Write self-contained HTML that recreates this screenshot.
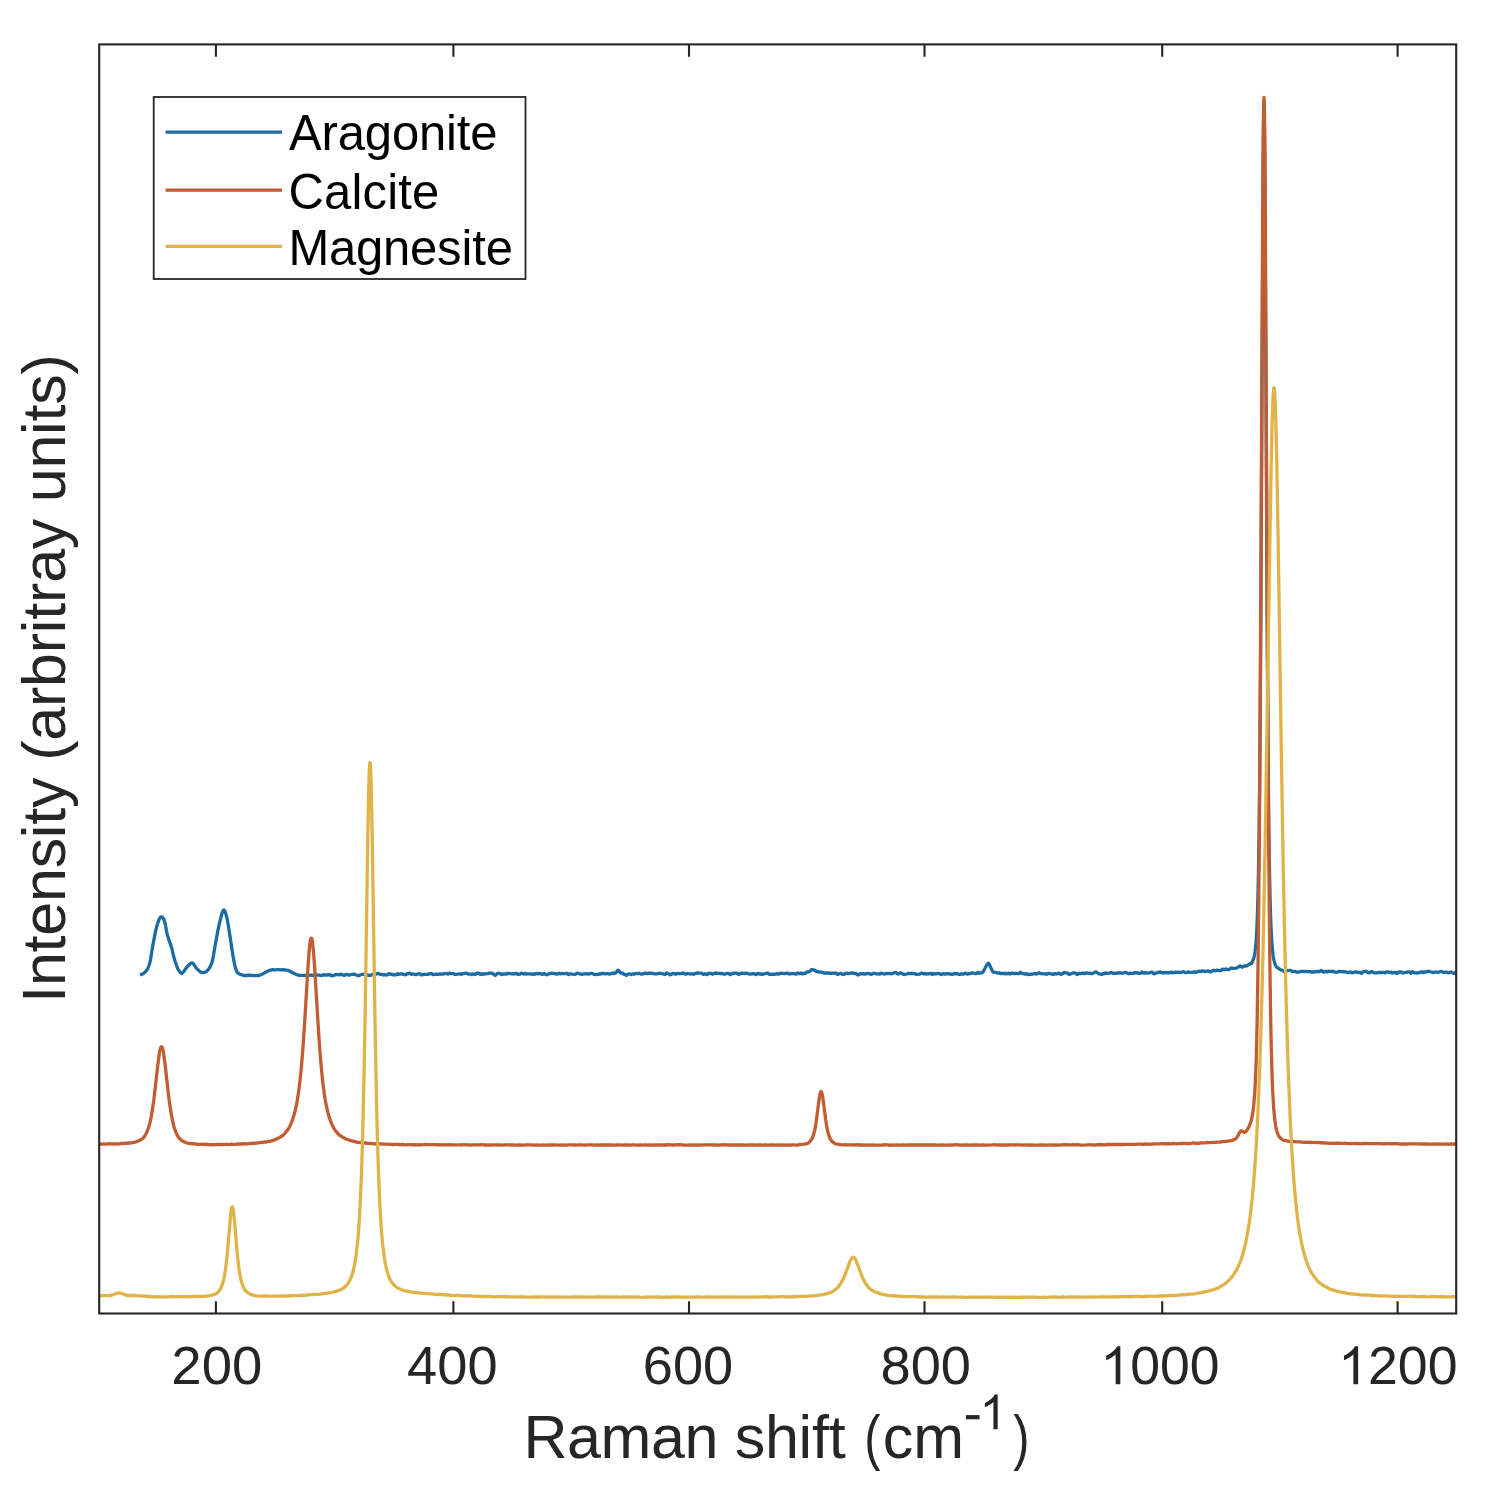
<!DOCTYPE html>
<html><head><meta charset="utf-8"><title>Raman spectra</title><style>
html,body{margin:0;padding:0;background:#fff;width:1497px;height:1497px;overflow:hidden}
svg{display:block;font-family:"Liberation Sans",sans-serif}
</style></head><body>
<svg width="1497" height="1497" viewBox="0 0 1497 1497">
<rect width="1497" height="1497" fill="#fff"/>
<defs><clipPath id="c"><rect x="99.2" y="44.4" width="1357.0" height="1269.1"/></clipPath></defs>
<g clip-path="url(#c)" fill="none" stroke-width="3.3" stroke-linejoin="round" stroke-linecap="butt">
<path d="M140.0,974.9 141.5,974.4 143.0,973.7 144.0,973.0 145.0,972.2 146.5,970.5 147.5,969.0 148.0,968.0 149.0,965.5 150.0,962.1 150.5,959.6 152.5,947.3 154.0,939.2 155.5,931.6 156.5,927.4 157.5,923.9 159.0,919.6 160.0,917.7 160.5,917.1 161.0,916.8 161.5,916.8 162.0,917.0 162.5,917.4 163.0,918.0 164.0,919.9 164.6,921.5 165.5,925.3 166.5,930.8 167.3,934.6 168.5,938.6 171.1,946.1 172.0,949.4 173.5,955.8 175.0,960.9 176.0,964.0 177.5,968.0 178.5,969.9 180.0,972.1 181.0,973.1 181.5,973.3 182.0,973.2 182.5,972.8 183.5,971.9 184.0,971.2 185.0,969.6 186.5,967.6 189.0,964.9 190.5,963.5 191.5,963.0 192.0,962.9 192.5,963.1 193.0,963.4 194.0,964.6 196.0,967.7 197.0,968.9 198.5,970.3 200.5,972.0 202.0,972.6 203.0,972.7 205.0,972.2 206.5,971.4 208.0,969.9 209.5,968.0 210.5,966.1 211.5,963.7 212.0,962.2 213.0,958.2 215.5,943.5 217.5,932.6 219.0,925.2 221.0,916.8 222.0,913.2 222.5,911.8 223.0,910.8 223.5,910.1 223.7,910.0 224.0,910.0 224.5,910.5 225.0,911.4 225.5,912.8 226.5,916.4 227.5,920.7 228.5,926.5 233.0,956.1 234.5,963.9 235.5,968.1 236.4,970.8 237.0,971.9 237.5,972.5 238.5,973.5 239.0,973.8 240.0,974.3 240.5,974.5 241.5,974.6 243.0,975.3 244.0,975.5 246.5,975.5 249.0,975.2 252.5,975.5 256.0,975.6 257.0,975.5 258.5,975.5 259.5,975.3 261.0,974.8 266.5,971.9 267.5,971.2 269.0,970.6 272.5,969.7 275.0,969.9 278.0,969.6 279.5,969.6 280.5,969.8 283.0,969.7 285.0,969.8 286.5,970.2 288.0,970.4 289.5,971.0 293.5,973.3 296.5,974.6 299.5,975.3 302.0,975.4 304.5,975.3 307.5,975.4 311.0,975.1 311.5,975.1 312.5,975.4 313.5,975.5 317.0,975.0 319.5,975.2 320.5,975.5 321.0,975.6 323.0,975.1 324.0,974.6 324.5,974.7 325.5,975.2 326.5,975.2 327.5,974.8 328.0,974.7 329.0,975.0 330.0,974.6 330.5,974.9 331.0,975.5 331.5,975.8 334.5,975.2 335.0,975.0 336.0,974.4 337.0,974.6 337.5,974.6 338.5,974.4 339.5,974.9 340.5,974.4 341.0,974.2 341.5,974.3 342.0,974.4 343.0,975.0 344.0,975.4 344.5,975.4 345.5,974.7 346.5,974.3 347.0,974.4 348.0,975.0 349.0,975.2 350.0,974.7 350.5,974.6 352.5,974.4 354.0,974.2 355.0,974.3 356.0,975.0 357.5,975.3 358.5,975.8 359.5,975.2 361.0,974.7 362.0,974.3 363.0,974.5 363.5,974.4 365.5,973.7 367.0,974.8 368.0,975.3 369.0,975.2 370.0,975.4 370.5,975.3 371.0,975.2 372.5,974.5 374.0,974.5 375.0,974.4 377.5,973.6 378.5,973.5 379.5,974.0 380.5,974.4 381.0,974.4 382.0,974.3 383.0,974.9 383.5,975.0 384.5,974.7 385.5,974.8 386.5,975.0 387.0,975.0 389.0,973.6 389.5,973.7 390.0,974.1 390.5,974.4 391.5,974.1 392.5,974.7 393.0,974.8 394.0,974.7 395.0,974.9 396.0,974.9 396.5,974.6 397.5,973.6 398.5,974.3 401.0,973.9 402.0,973.9 403.5,974.5 405.5,974.9 406.0,974.6 407.0,973.7 408.0,973.8 409.0,973.2 409.5,973.2 411.5,974.3 412.5,974.0 413.0,974.0 414.0,974.2 415.0,974.3 416.0,974.6 416.5,974.6 417.5,974.0 418.5,973.8 419.5,973.7 420.0,973.9 421.0,974.8 422.0,974.9 423.5,974.4 427.0,974.3 429.0,974.0 430.5,973.5 431.5,973.6 432.5,974.4 433.0,974.7 436.5,974.1 438.5,974.3 440.0,973.9 442.0,974.2 442.5,974.1 443.5,973.8 447.0,973.4 448.0,974.1 448.5,973.9 449.0,973.4 449.5,973.1 450.5,973.6 453.0,973.7 454.0,973.9 455.0,974.4 455.5,974.5 459.0,973.8 460.0,973.9 461.0,974.3 461.5,974.3 463.5,973.5 464.5,973.3 467.0,973.1 468.0,974.0 468.5,974.2 469.5,974.2 470.5,974.0 471.5,974.5 472.0,974.5 473.0,973.9 474.0,974.2 475.0,974.4 475.5,974.3 476.5,973.4 477.5,973.1 478.0,973.1 479.0,973.3 480.0,974.1 481.0,974.5 481.5,974.3 482.0,973.9 482.5,973.7 483.5,974.3 485.0,973.8 487.0,973.6 488.0,973.6 488.5,973.5 489.5,973.0 490.5,973.1 491.5,973.1 492.0,973.2 493.0,973.8 494.5,975.0 495.0,975.2 495.5,975.3 497.5,973.4 498.0,973.3 499.0,973.4 500.0,973.3 501.0,974.3 501.5,974.5 502.5,974.3 503.5,973.8 505.0,974.2 506.0,974.2 507.0,973.4 507.5,973.3 510.5,973.7 512.0,973.8 513.0,973.7 514.0,973.8 514.5,973.8 516.5,973.3 517.5,974.1 518.0,974.3 520.0,974.1 521.0,973.4 521.5,973.2 522.5,973.5 523.5,974.0 524.0,973.9 524.5,973.5 525.0,973.4 526.0,974.1 527.0,973.8 527.5,973.8 528.5,973.9 529.5,973.8 530.5,973.9 532.0,974.3 533.0,973.9 534.0,974.3 534.5,974.4 535.5,973.7 536.5,973.4 537.0,973.5 537.5,973.8 538.0,973.9 539.0,973.4 540.0,973.5 541.5,974.1 542.5,974.4 543.5,973.5 544.0,973.4 545.0,973.9 546.0,974.6 546.5,974.6 547.5,974.5 548.5,974.0 549.5,973.6 551.0,973.5 552.0,973.2 553.5,973.5 555.5,973.7 556.5,974.2 557.0,974.2 558.0,973.8 559.0,973.2 560.0,973.8 560.5,973.9 561.5,973.4 564.0,973.6 565.0,973.6 566.0,973.3 566.5,973.3 567.0,973.4 567.5,973.7 568.5,974.6 569.5,974.0 570.0,973.8 570.5,973.8 571.0,973.8 572.0,974.2 575.5,974.4 576.5,973.4 577.0,973.1 578.0,973.2 581.5,974.4 582.5,974.3 584.0,973.8 586.0,973.7 587.0,973.8 588.5,974.1 591.0,973.4 592.0,973.3 593.5,974.2 594.5,974.5 598.0,974.4 599.0,974.0 600.5,974.1 601.5,973.5 602.5,973.5 604.0,973.4 605.0,973.9 606.5,973.6 607.5,973.6 608.5,973.8 609.5,974.2 610.0,974.2 611.0,973.5 612.0,973.2 613.5,973.6 614.5,973.0 615.5,973.0 616.0,972.7 616.5,972.1 617.5,970.6 618.0,970.2 618.5,970.3 619.0,970.9 620.0,972.4 620.5,973.0 621.5,973.2 622.5,973.1 623.0,973.3 624.0,974.4 625.0,974.3 625.5,974.6 626.0,975.1 626.5,975.4 627.5,974.5 628.5,974.0 629.0,973.9 630.0,973.9 631.0,974.5 632.5,974.0 634.5,974.1 635.5,973.6 636.0,973.5 637.0,973.7 638.0,973.6 639.0,973.2 639.5,973.3 640.5,973.9 641.5,974.1 642.0,974.1 643.0,973.9 645.0,972.9 645.5,973.0 646.5,973.6 647.5,973.7 648.5,973.1 649.0,973.1 650.0,973.5 651.0,973.0 652.5,973.5 655.0,973.9 657.0,973.9 658.0,973.4 658.5,973.3 660.5,973.4 662.0,973.6 664.0,974.1 665.0,974.5 665.5,974.3 666.5,972.9 667.5,973.6 668.5,973.7 669.0,973.8 670.0,974.8 671.0,974.6 672.0,973.7 672.5,973.4 673.5,973.8 674.5,973.6 675.0,973.7 676.0,974.1 677.0,973.5 680.5,973.7 682.0,973.4 683.0,972.9 684.5,973.8 685.5,974.1 686.5,973.9 687.5,973.5 688.0,973.5 690.0,974.0 691.5,973.8 692.5,973.8 693.5,974.4 695.0,973.5 696.0,973.4 697.0,972.9 697.5,972.9 698.5,973.1 699.5,973.2 701.5,973.2 702.0,973.4 703.0,974.4 704.5,973.9 705.5,973.9 706.5,974.7 707.5,974.2 709.0,973.1 710.0,973.7 711.0,973.4 711.5,973.5 712.5,974.3 713.5,973.5 714.0,973.4 715.0,973.3 716.0,972.9 717.0,973.4 717.5,973.4 718.5,973.3 719.5,973.5 722.0,973.5 723.0,974.0 724.0,974.2 724.5,974.2 725.5,974.0 727.0,973.4 728.0,973.3 729.0,973.7 730.0,974.6 730.5,974.6 731.5,973.9 732.5,973.5 735.0,973.1 736.0,973.1 737.0,973.4 738.5,974.3 740.5,973.7 742.0,973.0 743.0,973.5 744.0,973.7 744.5,973.6 745.5,973.2 746.5,973.1 747.5,973.4 749.0,974.1 749.5,974.1 750.5,974.1 752.5,973.7 754.0,973.9 755.0,973.8 756.0,974.6 756.5,974.4 757.0,973.9 757.5,973.6 758.5,973.5 759.5,974.1 760.0,974.1 760.5,973.9 761.0,973.9 762.0,974.4 763.0,974.0 765.5,973.6 766.5,973.2 767.0,973.1 768.0,973.1 769.0,974.3 769.5,974.4 771.5,974.2 772.5,974.3 774.0,974.2 775.0,974.3 776.0,973.9 777.0,973.7 777.5,973.7 778.5,974.1 779.5,973.8 781.0,973.1 782.0,973.3 783.5,973.4 784.5,973.8 786.0,973.3 787.0,973.1 788.0,973.2 789.0,974.0 789.5,974.0 790.5,973.7 793.0,973.6 794.0,973.6 796.0,974.1 796.5,973.9 797.5,972.9 798.5,973.6 799.0,973.6 801.0,973.0 802.0,973.9 802.5,973.8 803.0,973.4 803.5,973.2 804.5,973.6 805.5,973.2 807.0,971.9 808.5,971.8 809.5,971.5 810.5,970.8 811.5,969.6 812.0,969.5 814.0,970.1 815.0,970.1 815.5,970.6 816.0,971.3 816.5,971.7 817.5,971.6 820.0,972.1 822.0,972.2 824.5,973.1 826.0,973.0 827.0,973.1 828.0,972.7 829.0,973.2 829.5,973.3 830.5,973.1 831.5,973.4 833.0,973.1 834.0,973.1 835.0,973.4 835.5,973.4 836.0,973.2 836.5,973.2 837.5,974.4 839.0,973.9 841.0,973.4 842.5,974.3 843.5,974.5 844.5,974.1 845.5,973.4 846.0,973.2 847.0,973.3 848.0,973.7 848.5,973.7 850.5,973.1 851.5,973.0 853.0,973.1 854.0,973.5 855.0,973.4 856.0,973.5 856.5,973.7 857.5,974.8 858.0,974.9 858.5,974.9 859.0,974.7 860.0,973.7 861.5,973.9 863.5,973.7 864.5,974.1 865.0,974.1 866.0,973.7 868.5,973.5 869.5,973.7 870.5,974.2 871.5,974.3 872.0,974.1 873.0,973.3 874.0,973.4 875.0,973.3 875.5,973.4 876.5,973.9 877.5,973.9 879.0,974.2 880.0,973.9 881.0,973.1 881.5,973.1 882.5,973.7 884.5,974.0 885.0,973.9 886.0,973.3 887.0,973.6 889.5,973.3 890.5,973.7 891.5,973.9 892.0,973.8 895.0,972.5 895.5,972.4 896.5,973.0 897.5,973.8 898.0,974.0 899.0,973.7 900.0,972.9 900.5,972.9 901.5,973.1 903.5,974.4 904.5,974.5 907.0,974.0 908.5,973.4 910.5,973.5 912.0,973.3 913.0,973.6 914.5,973.6 915.5,973.9 916.5,974.4 917.0,974.4 919.0,974.1 920.0,973.8 921.0,973.3 921.5,973.1 923.5,973.8 924.0,973.8 924.5,973.5 925.0,973.4 926.0,974.1 927.0,973.8 927.5,973.8 928.5,973.9 929.5,973.7 930.5,973.3 931.0,973.4 932.0,974.4 933.0,973.6 933.5,973.7 934.0,973.9 934.5,974.0 935.5,973.6 936.5,973.8 938.0,973.4 939.0,973.4 941.0,974.5 941.5,974.6 942.5,973.8 943.5,973.7 945.0,974.1 946.0,973.7 947.0,973.9 947.5,973.9 948.5,973.5 949.5,973.9 951.0,974.1 952.0,974.4 953.0,974.2 954.5,973.4 955.5,973.9 956.5,973.4 957.0,973.4 959.0,974.4 960.0,974.3 961.5,973.7 962.5,974.2 963.0,974.2 964.0,973.9 965.0,973.2 966.0,973.4 967.0,974.0 967.5,974.2 968.5,973.7 970.0,973.7 971.0,973.4 972.0,972.9 973.0,973.0 974.5,973.5 975.5,973.5 976.5,973.4 977.0,973.2 978.0,972.3 979.0,973.1 979.5,973.2 981.0,973.0 982.0,972.7 982.5,972.5 983.0,971.9 984.5,969.3 986.5,965.4 987.5,964.2 988.0,963.4 988.5,963.1 989.0,963.8 992.0,970.2 993.0,971.8 993.5,972.3 994.5,972.4 995.5,972.3 997.0,972.9 998.0,973.1 999.0,972.7 999.5,972.8 1000.5,973.6 1001.5,973.4 1002.5,973.7 1003.0,973.7 1004.0,973.1 1005.0,973.9 1005.5,973.7 1006.0,973.3 1006.5,973.3 1007.5,973.9 1008.5,973.1 1009.0,973.3 1009.5,973.7 1010.0,974.0 1011.0,973.7 1012.0,973.1 1012.5,973.1 1014.5,973.7 1016.0,973.3 1017.0,973.4 1018.0,973.7 1019.0,973.6 1019.5,973.4 1020.5,972.3 1022.0,973.2 1023.0,973.7 1024.0,973.8 1025.0,974.1 1025.5,974.0 1026.0,973.7 1026.5,973.7 1027.5,974.7 1030.0,974.1 1031.0,974.3 1032.5,974.2 1034.5,973.5 1036.0,974.0 1037.0,973.9 1038.0,973.0 1038.5,972.9 1039.0,972.9 1039.5,972.9 1040.5,973.5 1044.0,973.9 1045.0,973.8 1045.5,973.9 1046.5,974.3 1047.5,973.6 1048.5,973.4 1049.0,973.4 1051.0,973.9 1052.5,974.1 1053.5,974.4 1054.5,973.7 1055.0,973.7 1056.0,974.0 1057.0,973.9 1058.0,973.3 1058.5,973.2 1059.5,973.4 1060.5,974.3 1061.0,974.3 1062.0,974.0 1062.5,973.7 1063.0,973.4 1064.0,972.5 1064.5,972.5 1065.5,972.8 1066.5,972.9 1067.5,973.2 1068.5,974.1 1069.0,974.4 1071.0,973.9 1072.5,973.1 1073.5,972.8 1074.5,973.0 1075.5,973.1 1076.0,973.2 1077.0,974.5 1077.5,974.3 1078.5,973.6 1079.5,973.2 1080.5,973.7 1081.0,973.7 1082.0,973.4 1083.0,972.9 1084.0,973.6 1084.5,973.6 1085.5,973.3 1086.5,972.8 1087.5,973.2 1088.5,973.4 1089.0,973.5 1090.0,973.2 1091.5,973.6 1092.5,973.7 1095.0,972.2 1096.0,971.9 1098.5,973.6 1101.5,974.3 1102.0,974.3 1103.0,973.7 1104.0,973.8 1104.5,973.6 1105.5,972.8 1106.5,973.3 1107.5,973.4 1109.0,973.2 1111.0,972.7 1111.5,972.7 1112.5,973.0 1113.5,973.6 1114.0,973.5 1115.0,973.2 1116.0,973.4 1117.0,973.0 1117.5,973.0 1118.5,973.1 1119.5,972.7 1121.0,973.1 1122.0,973.0 1123.0,973.2 1125.5,972.4 1126.5,972.7 1128.0,973.4 1129.0,973.8 1130.0,973.3 1130.5,973.2 1131.5,973.4 1132.5,973.5 1133.5,973.4 1134.0,973.1 1135.0,972.4 1136.0,972.9 1137.0,972.6 1137.5,972.6 1138.5,973.3 1140.5,973.4 1141.0,973.1 1142.0,971.9 1143.0,972.7 1144.0,973.1 1144.5,973.1 1145.5,972.4 1146.5,973.0 1147.0,973.1 1149.0,972.8 1151.5,972.2 1152.5,972.4 1153.5,973.6 1154.0,973.9 1155.0,973.3 1156.0,973.1 1157.5,972.5 1160.5,972.2 1161.0,972.2 1162.0,972.8 1163.0,972.7 1163.5,972.7 1164.5,973.0 1165.5,972.3 1166.5,972.7 1167.0,972.8 1168.0,972.7 1169.0,972.9 1170.0,972.7 1171.5,972.1 1172.5,972.8 1173.0,972.8 1174.0,972.4 1175.0,972.4 1176.0,972.1 1176.5,972.1 1177.5,972.3 1178.5,972.2 1180.0,972.4 1181.0,972.5 1183.0,971.7 1183.5,971.7 1184.5,972.2 1185.5,972.6 1186.5,972.6 1187.0,972.5 1188.0,971.8 1189.0,972.2 1189.5,972.3 1192.5,972.3 1194.0,971.9 1195.0,972.0 1196.0,972.3 1196.5,972.2 1198.5,971.2 1199.0,971.2 1201.0,971.7 1202.0,970.9 1202.5,970.8 1203.5,971.0 1204.5,971.5 1207.0,971.3 1208.0,970.8 1210.5,971.9 1212.0,971.0 1214.0,970.2 1215.0,970.8 1216.0,970.7 1216.5,970.6 1217.5,970.1 1218.5,970.6 1219.5,970.7 1221.0,970.5 1222.0,969.5 1222.5,969.2 1224.5,969.7 1225.5,969.0 1226.0,968.9 1227.0,969.4 1228.0,969.6 1228.5,969.6 1229.5,969.2 1230.5,968.4 1231.5,968.0 1232.0,968.0 1233.0,968.3 1235.0,968.3 1236.0,968.2 1236.5,968.0 1237.5,967.4 1238.5,966.9 1240.0,965.8 1242.0,967.1 1242.5,967.2 1243.5,966.3 1244.5,965.9 1246.0,966.0 1247.0,965.8 1248.0,964.9 1249.5,964.2 1250.5,963.4 1251.5,963.4 1252.0,962.8 1253.5,958.9 1254.0,957.2 1254.5,955.0 1255.0,952.0 1255.5,947.9 1256.0,942.4 1256.5,935.0 1257.0,925.0 1257.5,911.6 1258.0,893.8 1258.5,870.1 1259.0,838.3 1259.5,796.3 1260.0,741.9 1260.5,673.8 1261.0,590.4 1263.0,189.4 1263.5,126.4 1263.8,107.9 1264.0,104.6 1264.5,127.9 1265.0,191.1 1267.0,592.2 1267.5,675.4 1268.5,797.4 1269.0,839.4 1269.5,871.4 1270.0,895.4 1270.5,913.4 1271.0,926.6 1271.5,936.4 1272.0,944.0 1272.5,950.1 1273.0,954.9 1273.5,958.0 1274.0,960.3 1275.0,964.1 1275.5,965.4 1276.5,967.0 1277.0,967.4 1278.5,968.4 1281.0,970.0 1282.5,970.4 1283.5,971.4 1284.0,971.3 1285.0,970.9 1286.0,970.7 1288.5,970.5 1289.5,970.3 1290.5,970.4 1292.0,971.4 1294.5,971.4 1295.5,971.6 1296.5,972.0 1299.0,972.1 1300.0,971.6 1300.5,971.5 1302.5,971.3 1303.5,971.5 1305.0,971.3 1307.5,971.6 1309.5,971.7 1310.5,971.6 1311.0,971.8 1312.0,972.4 1314.0,971.6 1314.5,971.6 1315.5,971.9 1316.5,971.5 1317.5,971.4 1318.0,971.4 1319.0,971.8 1320.0,971.3 1321.0,970.6 1321.5,970.4 1322.5,971.5 1323.5,972.2 1324.0,972.1 1325.0,971.4 1326.0,971.4 1327.0,972.0 1327.5,971.9 1328.5,971.2 1329.5,971.4 1331.0,971.4 1332.0,971.7 1333.0,971.2 1333.5,971.4 1334.0,971.9 1334.5,972.2 1335.5,972.1 1336.5,972.2 1337.0,972.2 1338.0,972.0 1339.0,971.2 1340.0,971.6 1340.5,971.7 1341.5,971.5 1342.5,971.9 1344.0,971.7 1346.0,972.0 1347.5,972.5 1348.5,972.6 1349.5,972.0 1350.0,971.9 1351.0,972.2 1352.0,972.8 1353.0,972.7 1354.5,972.0 1356.5,972.0 1357.0,972.1 1358.0,972.6 1359.0,972.4 1360.0,972.4 1360.5,972.6 1361.5,973.3 1362.5,972.2 1363.0,971.9 1365.0,971.3 1366.0,971.2 1366.5,971.4 1367.5,972.3 1368.5,972.4 1369.5,972.9 1370.0,972.7 1371.0,971.6 1372.0,971.6 1373.0,972.4 1373.5,972.7 1374.5,972.8 1376.5,972.8 1377.0,972.8 1378.0,972.5 1380.0,972.3 1380.5,972.3 1381.5,972.6 1382.5,972.4 1383.5,972.4 1384.0,972.4 1385.0,972.9 1386.0,972.2 1386.5,971.9 1387.5,971.8 1388.5,972.3 1391.0,972.1 1392.0,973.0 1392.5,973.0 1394.5,972.2 1395.5,972.6 1396.5,973.3 1397.0,973.4 1398.0,972.2 1399.0,972.0 1399.5,972.0 1400.5,972.1 1401.5,971.9 1402.5,972.8 1403.0,973.0 1404.0,972.7 1405.0,972.3 1406.5,972.4 1407.5,971.9 1408.5,971.9 1409.5,972.0 1410.0,972.3 1411.0,973.2 1412.0,971.9 1412.5,971.7 1414.5,972.8 1415.5,972.8 1416.0,972.8 1417.0,973.2 1418.0,972.8 1420.5,972.2 1421.5,971.9 1422.0,972.1 1422.5,972.5 1423.0,972.7 1424.0,971.9 1425.5,972.0 1427.5,971.7 1428.5,971.2 1429.0,971.2 1431.0,972.0 1432.5,972.3 1433.5,972.6 1435.5,972.0 1436.0,972.0 1438.0,972.4 1438.5,972.3 1440.5,971.4 1441.5,971.4 1442.0,971.7 1443.0,972.4 1444.0,972.7 1445.0,972.1 1445.5,972.0 1446.5,972.2 1448.5,972.8 1449.0,972.7 1450.0,972.1 1451.0,972.0 1451.5,972.2 1453.5,973.4 1454.5,973.3 1456.0,972.1 1457.0,972.3 1458.2,972.1" stroke="#1a6ca2"/>
<path d="M97.2,1144.0 98.2,1144.1 100.7,1144.0 102.2,1144.1 104.2,1144.0 105.7,1144.1 107.7,1143.8 109.2,1143.7 111.7,1143.9 115.7,1144.0 117.2,1143.8 118.7,1143.8 120.7,1143.5 122.2,1143.5 124.2,1143.3 125.7,1143.4 128.7,1143.0 130.2,1143.1 131.2,1142.8 133.7,1142.4 136.2,1141.8 139.7,1140.4 141.7,1139.2 143.2,1138.1 145.2,1135.3 146.2,1133.5 147.2,1131.3 148.7,1127.2 150.2,1121.6 151.2,1116.8 152.2,1110.9 153.7,1100.8 155.2,1088.3 157.7,1065.8 159.2,1054.2 159.7,1051.3 160.2,1049.1 160.7,1047.6 161.2,1046.9 161.5,1046.7 161.7,1046.8 162.2,1047.5 162.7,1048.9 163.2,1051.0 163.7,1053.8 165.2,1065.2 168.2,1092.3 169.2,1100.4 171.2,1113.9 172.7,1121.7 173.7,1125.8 174.2,1127.5 175.7,1131.8 176.7,1134.1 177.7,1136.0 178.7,1137.5 180.2,1139.2 181.7,1140.5 183.2,1141.4 184.7,1142.0 185.7,1142.5 187.2,1143.0 190.2,1143.6 191.7,1143.5 192.7,1143.8 194.2,1143.7 197.2,1144.4 197.7,1144.4 198.7,1144.3 200.7,1144.4 202.2,1144.1 203.7,1144.4 205.7,1144.5 207.2,1144.4 210.7,1144.6 211.7,1144.6 212.7,1144.9 214.2,1144.6 217.2,1144.4 219.2,1144.6 221.2,1144.4 223.7,1144.5 224.7,1144.3 227.2,1144.4 228.2,1144.6 231.7,1144.2 232.7,1144.4 234.2,1144.3 235.2,1144.5 236.7,1144.1 240.2,1144.0 242.2,1144.0 244.7,1143.7 245.7,1143.9 247.2,1143.9 248.2,1143.7 249.2,1143.7 250.7,1143.3 251.7,1143.5 253.7,1143.2 254.2,1143.2 255.2,1143.4 256.7,1143.0 257.7,1143.0 260.2,1142.5 262.2,1142.5 263.7,1142.2 266.2,1142.0 268.2,1141.4 269.7,1141.3 270.7,1141.0 271.7,1140.9 273.2,1140.2 274.2,1140.1 276.2,1139.0 277.7,1138.4 279.7,1137.4 282.7,1135.5 283.7,1134.7 287.7,1129.9 289.2,1127.6 290.7,1124.5 292.7,1119.3 294.2,1114.6 296.2,1106.1 297.2,1100.8 298.7,1091.0 299.7,1083.1 300.7,1074.0 301.7,1063.4 302.7,1051.1 304.7,1021.9 307.7,971.7 309.2,950.7 309.7,945.5 310.2,941.7 310.7,939.2 311.2,938.1 311.3,938.1 311.7,938.5 312.2,940.4 312.7,943.8 313.7,954.2 314.7,968.4 318.7,1034.2 320.2,1055.0 321.2,1066.7 322.7,1081.5 324.2,1093.3 325.2,1099.7 327.2,1109.7 328.2,1113.8 329.7,1118.9 331.2,1122.7 332.2,1124.9 333.7,1128.0 335.2,1130.5 335.7,1131.1 336.7,1132.1 338.7,1134.4 339.2,1134.9 340.2,1135.7 342.7,1137.2 343.7,1137.7 345.2,1138.7 349.7,1140.3 355.7,1141.8 357.7,1142.3 361.2,1142.7 362.7,1142.7 363.7,1143.0 364.2,1143.0 366.2,1143.0 367.7,1143.4 368.7,1143.4 369.7,1143.4 372.2,1143.7 373.2,1143.8 374.7,1143.6 375.7,1143.8 377.2,1143.7 380.2,1143.9 381.7,1144.0 382.7,1144.0 384.2,1144.2 386.7,1144.2 389.7,1144.4 391.2,1144.4 392.2,1144.6 394.7,1144.5 395.7,1144.3 396.7,1144.3 398.2,1144.5 399.2,1144.5 401.7,1144.7 402.7,1144.4 405.2,1144.8 407.7,1144.6 409.7,1144.6 412.2,1144.8 413.7,1144.7 418.2,1144.8 419.2,1144.6 421.7,1144.8 422.7,1144.7 425.2,1144.5 427.7,1144.7 428.7,1144.6 434.7,1144.6 435.7,1144.8 438.2,1144.7 439.2,1144.9 440.7,1144.8 441.7,1144.9 442.7,1144.7 444.2,1144.9 446.2,1144.7 447.7,1144.8 449.7,1144.7 451.2,1144.8 459.7,1144.9 461.7,1145.0 463.2,1144.7 464.2,1144.6 465.2,1144.9 469.7,1144.9 471.2,1145.2 472.7,1144.9 474.7,1144.9 476.2,1144.8 480.7,1144.9 481.7,1144.7 482.7,1144.7 483.2,1144.7 484.2,1145.0 485.2,1145.0 486.7,1145.0 488.7,1144.8 490.2,1145.1 491.7,1144.8 492.7,1144.8 493.7,1145.0 494.7,1144.9 496.2,1144.8 498.2,1145.0 499.7,1144.8 500.7,1144.8 503.2,1145.2 504.2,1144.8 504.7,1144.8 506.7,1144.9 509.2,1144.8 511.2,1145.0 512.7,1144.8 513.7,1145.0 517.2,1145.2 518.7,1145.0 523.2,1145.1 526.7,1144.8 531.2,1144.9 533.7,1145.1 536.2,1144.8 539.7,1145.1 542.2,1145.1 543.2,1144.9 545.7,1145.1 547.7,1144.9 549.2,1145.1 550.2,1144.9 551.7,1145.0 556.2,1144.9 557.2,1144.9 558.7,1145.2 559.7,1145.2 561.2,1145.0 563.2,1145.1 564.2,1145.0 565.7,1145.2 570.7,1144.8 572.7,1144.8 573.7,1145.0 575.2,1145.0 576.2,1145.1 578.7,1144.9 580.7,1144.9 582.2,1144.8 584.7,1145.1 586.7,1144.9 589.2,1144.8 591.7,1144.8 595.2,1145.1 597.2,1144.8 597.7,1144.8 598.7,1145.1 601.2,1145.0 602.2,1145.0 603.7,1144.9 605.7,1145.0 611.7,1145.0 615.2,1145.2 616.2,1145.0 617.7,1145.0 618.7,1144.8 619.7,1144.8 623.2,1145.1 623.7,1145.1 624.7,1144.8 625.7,1145.0 628.2,1144.9 630.7,1145.1 632.2,1144.9 633.2,1144.8 636.7,1145.1 640.7,1144.9 642.2,1145.1 643.7,1144.8 645.7,1144.8 647.2,1145.1 649.7,1144.9 651.7,1145.2 652.7,1145.2 654.2,1144.9 656.7,1145.1 657.7,1144.8 658.7,1144.8 661.2,1145.0 662.7,1144.9 665.7,1145.0 669.2,1144.6 672.2,1145.1 673.2,1145.0 674.2,1144.8 675.2,1144.7 676.7,1144.9 679.2,1144.7 683.7,1145.0 687.2,1145.1 690.7,1144.9 692.2,1145.1 693.2,1145.0 696.2,1145.2 696.7,1145.2 697.7,1144.9 700.2,1145.1 703.7,1144.8 706.2,1144.9 707.2,1144.8 708.7,1144.9 710.7,1144.9 712.2,1144.9 714.2,1145.0 716.7,1144.9 718.7,1145.1 720.2,1144.9 721.2,1145.0 722.7,1144.9 723.7,1144.9 725.2,1144.6 727.2,1145.0 728.7,1145.0 729.7,1145.0 730.7,1144.9 732.2,1145.0 734.2,1144.9 735.7,1145.2 737.7,1144.8 740.2,1145.0 742.7,1145.0 745.2,1145.1 746.2,1145.1 747.2,1144.9 748.7,1145.1 749.7,1145.0 750.7,1144.8 752.2,1145.0 754.2,1145.0 755.7,1145.2 756.7,1145.0 759.2,1144.8 761.2,1145.0 762.7,1145.1 763.7,1145.0 765.2,1144.8 767.2,1145.1 770.7,1144.9 772.2,1145.0 773.2,1144.8 774.7,1145.1 778.2,1144.8 780.2,1145.1 781.7,1144.9 787.2,1145.1 788.7,1144.8 789.7,1145.2 792.2,1144.8 793.2,1144.8 796.7,1145.1 797.7,1145.1 799.2,1144.7 804.2,1144.2 805.2,1143.9 806.2,1143.8 807.2,1143.5 808.7,1142.7 809.7,1141.8 810.7,1140.6 812.2,1138.2 812.7,1137.0 813.7,1134.1 814.7,1130.4 815.2,1127.9 816.2,1121.9 818.7,1102.3 819.7,1095.5 820.2,1093.2 820.7,1091.8 821.1,1091.5 821.2,1091.6 821.7,1092.4 822.2,1094.2 822.7,1096.8 825.7,1119.7 826.7,1126.1 827.7,1131.2 828.2,1133.2 829.2,1136.4 829.7,1137.7 830.7,1139.6 831.7,1141.0 833.2,1142.4 834.2,1143.1 835.7,1143.9 839.2,1144.3 840.7,1144.7 844.2,1144.8 845.2,1144.6 846.7,1144.9 853.7,1144.9 855.7,1145.0 857.2,1144.7 858.2,1145.0 859.2,1145.0 860.7,1144.9 862.2,1145.0 864.2,1144.9 865.2,1145.1 865.7,1145.1 868.7,1144.9 870.2,1145.2 873.7,1145.0 874.7,1145.2 876.2,1145.1 877.2,1145.2 882.2,1145.1 885.2,1144.6 886.7,1145.0 887.7,1144.8 890.2,1145.4 891.2,1144.9 893.7,1145.1 896.2,1144.8 898.2,1145.1 903.2,1145.0 904.2,1145.0 905.7,1145.2 907.7,1144.8 909.2,1145.0 912.7,1144.8 916.2,1145.0 918.2,1144.8 919.7,1145.0 920.7,1145.0 922.2,1144.8 924.7,1145.0 926.7,1145.0 928.2,1145.0 930.2,1144.9 931.7,1145.0 933.7,1144.9 938.2,1145.1 942.2,1144.9 946.7,1145.1 950.2,1145.0 952.7,1145.2 955.2,1144.7 956.2,1144.9 957.7,1144.8 960.7,1145.1 964.2,1144.9 965.7,1145.0 966.7,1144.9 970.2,1145.1 971.7,1145.0 974.7,1145.0 976.7,1144.9 980.7,1145.1 982.2,1145.0 985.7,1145.1 991.7,1144.9 992.7,1144.8 994.2,1144.8 995.2,1144.7 996.2,1144.9 997.7,1145.1 998.7,1145.0 1002.2,1145.0 1003.7,1145.1 1004.7,1145.0 1006.7,1145.0 1008.2,1145.2 1009.2,1144.9 1010.7,1144.9 1011.7,1144.8 1014.2,1144.8 1015.2,1145.0 1017.2,1144.8 1021.2,1144.8 1022.2,1145.1 1024.7,1144.8 1025.7,1145.0 1027.2,1145.0 1028.2,1145.1 1029.7,1144.8 1035.2,1145.1 1038.7,1145.1 1040.2,1144.9 1042.2,1145.0 1043.7,1144.9 1047.2,1145.1 1048.2,1144.8 1049.2,1145.0 1049.7,1145.1 1050.7,1144.8 1051.7,1144.8 1052.7,1145.1 1053.2,1145.1 1054.2,1144.8 1055.2,1145.1 1056.7,1145.0 1058.2,1145.1 1061.2,1144.8 1064.7,1144.6 1065.7,1144.8 1067.2,1144.7 1068.7,1144.8 1070.7,1144.8 1072.7,1144.7 1074.2,1144.9 1076.7,1144.7 1081.2,1145.1 1087.2,1144.8 1088.2,1144.6 1089.7,1144.8 1091.7,1144.8 1093.2,1145.0 1096.7,1144.9 1100.2,1144.5 1104.7,1144.8 1107.2,1144.5 1109.7,1144.6 1110.7,1144.4 1112.2,1144.5 1113.2,1144.4 1115.7,1144.5 1116.7,1144.4 1119.2,1144.5 1120.2,1144.4 1122.7,1144.5 1123.7,1144.5 1125.2,1144.3 1129.7,1144.4 1131.2,1144.3 1133.2,1144.4 1134.2,1144.3 1135.7,1144.3 1138.2,1144.1 1141.7,1144.2 1142.7,1144.4 1145.2,1144.0 1148.2,1144.1 1149.7,1144.4 1150.7,1144.2 1152.2,1144.2 1154.7,1143.9 1159.2,1143.9 1161.7,1143.7 1162.7,1143.7 1163.7,1143.9 1165.2,1143.7 1167.2,1144.0 1168.7,1143.7 1170.7,1143.9 1171.2,1143.8 1172.2,1143.4 1173.7,1143.7 1174.7,1143.7 1175.7,1143.6 1176.7,1143.8 1178.2,1143.5 1179.2,1143.7 1181.7,1143.5 1182.7,1143.5 1184.2,1143.3 1185.2,1143.5 1188.7,1143.6 1189.7,1143.4 1191.2,1143.3 1192.2,1143.2 1193.2,1142.9 1195.7,1143.3 1197.2,1143.2 1198.2,1143.3 1200.7,1142.8 1204.2,1142.9 1205.2,1142.8 1206.7,1142.5 1209.7,1142.7 1212.2,1142.3 1215.7,1142.4 1217.2,1142.1 1219.7,1142.1 1220.7,1142.0 1221.7,1141.7 1223.2,1141.7 1225.2,1141.3 1226.7,1141.4 1227.7,1141.1 1231.2,1140.7 1234.7,1139.4 1235.2,1139.1 1236.2,1138.3 1237.2,1137.0 1237.7,1136.2 1239.7,1132.3 1240.2,1131.6 1240.7,1131.1 1241.2,1130.9 1241.7,1130.9 1243.7,1132.2 1244.2,1132.3 1244.7,1132.3 1245.2,1132.1 1245.7,1131.8 1246.7,1130.6 1248.7,1127.3 1250.2,1123.7 1251.2,1120.7 1252.0,1117.2 1252.7,1113.3 1253.7,1105.5 1254.7,1093.4 1255.2,1084.7 1255.7,1073.6 1256.2,1059.5 1256.7,1041.5 1257.2,1018.6 1258.2,953.5 1258.7,908.1 1259.7,784.6 1260.7,613.1 1262.7,212.3 1263.2,142.9 1263.5,115.4 1263.7,103.9 1264.0,97.5 1264.2,100.6 1264.7,133.6 1265.2,198.3 1267.7,691.8 1268.7,845.1 1269.7,951.4 1270.7,1020.6 1271.2,1045.0 1272.2,1079.3 1272.7,1091.3 1273.7,1108.3 1274.7,1119.0 1275.7,1126.1 1276.2,1128.7 1277.2,1132.4 1278.2,1135.0 1278.7,1135.9 1279.7,1137.3 1281.7,1139.1 1283.2,1140.1 1285.2,1140.4 1286.7,1140.9 1289.2,1141.3 1290.2,1141.6 1292.7,1141.4 1297.2,1141.9 1298.2,1141.9 1299.7,1141.8 1304.2,1142.3 1305.7,1142.2 1306.7,1142.3 1307.7,1142.2 1311.2,1142.5 1312.7,1142.4 1313.7,1142.4 1317.2,1142.7 1319.7,1142.5 1323.2,1143.0 1324.2,1142.8 1325.7,1143.0 1329.2,1143.1 1330.2,1143.3 1331.7,1143.2 1332.7,1143.4 1333.7,1143.4 1336.2,1143.1 1337.2,1143.3 1338.7,1143.2 1341.2,1143.4 1343.2,1143.4 1344.7,1143.2 1348.2,1143.7 1350.7,1143.5 1353.7,1143.6 1356.2,1143.3 1358.7,1143.5 1359.7,1143.8 1361.2,1143.6 1362.2,1143.7 1363.2,1143.4 1364.7,1143.6 1365.7,1143.5 1369.2,1143.7 1371.7,1143.6 1372.7,1143.7 1374.2,1143.6 1380.7,1143.7 1382.2,1143.9 1384.7,1143.8 1385.7,1143.5 1387.2,1143.7 1388.2,1143.6 1389.2,1143.7 1390.2,1143.6 1390.7,1143.6 1391.7,1144.0 1392.7,1143.7 1394.2,1143.7 1397.2,1143.6 1397.7,1143.6 1398.7,1143.9 1399.7,1144.1 1401.2,1144.0 1402.2,1144.0 1404.7,1143.8 1405.7,1144.1 1406.2,1144.1 1408.2,1143.8 1410.7,1143.9 1418.7,1143.9 1420.2,1144.1 1421.2,1144.0 1424.7,1144.0 1425.7,1143.9 1427.2,1144.1 1428.2,1143.9 1430.7,1144.1 1438.7,1143.9 1441.2,1144.1 1443.2,1144.1 1444.7,1144.2 1447.2,1144.0 1449.2,1144.3 1449.7,1144.3 1450.7,1143.9 1451.7,1144.1 1454.2,1144.0 1455.7,1144.2 1458.2,1144.2" stroke="#c25c31"/>
<path d="M97.2,1295.9 98.2,1296.0 100.7,1295.6 105.7,1295.6 110.2,1295.3 112.7,1294.9 113.7,1294.5 115.2,1293.8 117.2,1293.1 118.7,1292.9 121.7,1293.3 122.2,1293.5 123.2,1294.0 124.2,1294.3 125.7,1295.0 129.2,1295.6 130.2,1295.4 131.2,1295.5 134.7,1295.5 136.2,1295.7 139.7,1295.9 140.7,1295.8 142.2,1296.1 144.7,1296.0 147.7,1296.5 149.2,1296.4 152.7,1296.8 153.7,1296.7 155.2,1296.9 157.2,1296.7 159.7,1296.9 163.2,1296.8 165.7,1296.9 168.2,1296.9 171.7,1296.5 172.7,1296.7 174.7,1296.8 175.2,1296.8 176.2,1296.6 178.7,1296.6 179.7,1296.5 182.2,1296.8 183.2,1296.7 183.7,1296.7 185.7,1296.9 186.7,1296.7 187.2,1296.7 190.2,1296.9 191.7,1296.6 192.7,1296.5 195.2,1296.7 196.2,1296.5 198.7,1296.3 199.7,1296.5 201.2,1296.4 204.7,1296.3 208.2,1296.0 209.2,1295.8 210.7,1295.3 213.2,1294.8 214.2,1294.4 217.2,1292.9 217.7,1292.6 219.7,1290.0 220.7,1288.3 221.7,1286.1 223.2,1281.6 224.2,1277.3 224.7,1274.6 225.7,1268.1 227.2,1254.8 230.7,1214.7 231.2,1210.5 231.7,1207.7 232.2,1206.6 232.3,1206.6 232.7,1207.2 233.2,1209.3 233.7,1212.8 234.7,1223.0 236.7,1247.2 237.7,1257.8 238.7,1266.5 239.2,1270.2 240.2,1276.1 241.2,1280.8 241.7,1282.5 242.7,1285.5 243.7,1287.8 244.7,1289.7 245.7,1291.0 247.2,1292.4 248.7,1293.4 250.2,1294.1 251.7,1294.8 255.2,1295.6 258.7,1296.0 262.7,1296.1 264.7,1296.0 268.2,1296.2 274.2,1296.2 276.2,1296.1 278.2,1296.2 281.2,1296.0 283.7,1296.2 284.7,1295.8 286.2,1296.0 289.2,1296.0 290.7,1295.7 291.7,1295.9 293.2,1295.7 297.7,1295.5 300.2,1295.3 301.2,1295.3 302.7,1295.2 303.7,1295.3 306.2,1295.2 307.7,1294.8 309.2,1294.6 313.2,1294.6 315.2,1294.3 316.7,1294.3 320.2,1294.1 323.7,1293.5 324.7,1293.6 325.2,1293.6 326.2,1293.3 330.7,1292.6 333.2,1292.0 334.2,1291.6 335.7,1291.5 337.7,1290.7 340.2,1289.9 341.7,1288.9 343.7,1287.9 345.7,1286.1 346.7,1285.1 347.7,1283.8 348.7,1282.3 350.2,1279.5 351.2,1277.2 352.2,1274.3 353.2,1270.8 354.2,1266.6 355.7,1258.1 357.2,1246.1 358.2,1235.5 359.2,1221.7 360.2,1204.1 361.2,1181.2 362.2,1151.6 362.7,1133.8 364.2,1066.8 365.2,1009.5 367.7,843.4 368.7,790.6 369.2,773.4 369.7,764.1 370.0,762.5 370.2,763.2 370.7,770.9 371.2,786.6 371.7,809.3 372.7,868.9 375.2,1033.4 376.7,1109.5 377.2,1129.9 378.2,1164.1 379.2,1190.7 380.0,1207.5 381.2,1227.2 381.7,1233.8 382.7,1244.7 384.2,1256.9 385.2,1263.0 385.7,1265.5 386.7,1269.8 388.2,1274.8 389.2,1277.5 390.7,1280.7 391.7,1282.3 394.2,1285.2 395.7,1286.5 397.2,1287.6 399.2,1288.7 401.7,1289.8 404.2,1290.6 406.2,1290.9 410.2,1291.9 411.2,1292.1 414.7,1292.3 417.2,1292.7 419.2,1292.8 420.7,1293.1 421.7,1293.1 422.7,1293.4 425.2,1293.7 426.2,1293.6 427.7,1293.7 428.7,1293.7 431.2,1293.8 435.7,1294.4 441.7,1294.5 444.2,1294.9 448.7,1295.0 451.2,1295.3 452.2,1295.3 453.7,1295.4 457.2,1295.3 459.7,1295.5 460.7,1295.7 461.7,1295.8 463.2,1295.7 464.2,1295.9 465.2,1295.9 466.7,1295.7 468.7,1295.9 470.2,1295.9 472.7,1296.2 475.7,1296.3 477.2,1296.2 478.2,1296.5 479.7,1296.5 480.7,1296.6 481.7,1296.5 485.2,1296.5 489.2,1296.7 491.7,1296.7 493.7,1296.8 497.2,1296.7 498.7,1296.6 503.2,1296.7 504.2,1296.6 508.2,1296.9 510.2,1296.8 512.7,1296.9 516.2,1296.8 519.7,1296.9 520.7,1297.0 522.2,1296.8 524.2,1296.9 525.7,1297.1 530.2,1297.2 535.2,1296.9 539.7,1297.0 543.2,1296.8 544.2,1297.0 546.7,1297.1 551.2,1297.0 553.7,1297.2 556.2,1297.0 557.7,1297.0 559.7,1297.2 565.2,1297.1 566.7,1297.0 568.2,1297.1 574.7,1296.8 576.2,1297.0 577.7,1296.9 578.7,1297.0 581.2,1296.9 584.7,1297.0 585.7,1297.2 588.2,1297.0 589.2,1297.1 590.2,1297.1 591.7,1297.2 592.7,1297.0 594.2,1297.1 595.2,1297.0 597.7,1297.0 599.7,1296.9 602.2,1297.0 603.2,1296.9 604.7,1297.1 606.7,1297.0 610.2,1297.2 610.7,1297.1 611.7,1296.9 614.2,1297.1 617.7,1297.0 618.7,1297.1 621.2,1297.1 622.2,1297.0 624.7,1297.0 625.7,1296.9 627.2,1297.1 629.2,1297.0 631.7,1297.1 637.7,1296.9 639.7,1297.2 642.2,1297.4 643.7,1297.3 644.7,1297.1 645.7,1297.0 647.2,1297.2 649.2,1297.1 651.7,1297.1 653.2,1297.0 655.2,1297.1 656.7,1296.9 657.7,1297.2 658.7,1297.2 660.2,1297.1 661.2,1297.3 663.2,1297.2 664.7,1297.3 666.2,1296.9 668.2,1297.2 669.7,1297.2 672.7,1297.0 675.2,1297.0 676.7,1296.8 677.7,1297.0 683.7,1297.1 690.7,1297.1 692.2,1297.2 697.7,1296.8 699.2,1297.1 700.2,1297.2 702.2,1297.1 704.7,1297.2 706.2,1296.9 708.2,1297.0 709.7,1297.0 711.2,1297.2 713.2,1297.1 716.7,1297.0 719.2,1297.2 722.2,1297.0 723.7,1297.1 726.2,1296.9 728.7,1297.2 729.7,1297.0 733.7,1297.2 735.7,1297.0 736.7,1297.2 739.2,1297.0 742.7,1297.1 745.2,1297.0 747.2,1297.2 748.7,1297.1 751.2,1297.1 753.2,1296.9 754.7,1297.1 756.7,1296.8 759.2,1297.1 760.2,1297.1 761.7,1296.9 765.2,1296.9 766.2,1296.7 767.2,1296.8 768.7,1297.0 769.7,1296.9 771.2,1297.1 772.2,1297.0 773.2,1296.8 774.7,1296.9 775.7,1296.8 777.2,1296.9 782.7,1296.7 783.7,1296.7 785.2,1296.9 786.2,1296.8 789.7,1296.8 793.2,1296.6 794.7,1296.8 795.7,1296.5 799.2,1296.5 801.7,1296.3 803.7,1296.4 806.2,1296.2 811.2,1296.0 812.2,1295.9 813.7,1295.6 817.2,1295.4 822.7,1294.7 824.2,1294.3 825.2,1293.9 827.7,1293.5 829.2,1292.8 831.2,1292.3 832.2,1291.8 834.2,1290.5 835.7,1289.2 837.2,1288.0 838.2,1287.0 840.7,1283.5 842.7,1280.0 845.2,1274.5 849.2,1263.4 850.2,1260.9 851.2,1259.0 851.7,1258.3 852.2,1257.8 852.7,1257.4 853.2,1257.2 853.7,1257.3 854.2,1257.6 854.7,1258.2 855.2,1259.0 856.2,1261.0 857.7,1264.8 861.7,1275.7 862.7,1278.1 863.7,1280.2 865.7,1283.6 867.7,1286.3 869.2,1288.1 870.2,1289.0 872.2,1290.4 874.2,1291.5 875.2,1292.0 877.2,1292.6 879.7,1293.6 881.7,1294.2 885.2,1294.8 886.7,1295.2 888.7,1295.4 891.2,1295.8 892.7,1295.7 893.7,1296.0 894.7,1295.9 896.2,1295.9 897.2,1296.0 898.2,1296.2 899.7,1296.2 900.7,1296.3 903.2,1296.4 905.7,1296.7 906.7,1296.7 908.2,1296.6 912.7,1296.6 913.7,1296.7 916.2,1296.6 919.7,1297.0 923.2,1296.8 927.7,1297.1 929.2,1296.8 931.2,1297.0 932.7,1296.9 933.7,1297.1 937.2,1297.0 940.7,1297.1 943.2,1296.8 945.7,1297.1 947.7,1297.1 950.2,1297.2 951.7,1297.0 957.7,1297.2 963.2,1297.1 968.2,1297.4 969.2,1297.2 970.2,1297.1 971.7,1297.2 975.2,1297.1 976.2,1297.2 977.7,1297.1 978.7,1297.2 980.2,1297.1 982.2,1297.3 983.2,1297.2 984.2,1297.2 985.7,1297.4 986.7,1297.2 988.2,1297.2 989.2,1297.0 990.7,1297.2 993.7,1297.1 995.2,1297.3 996.2,1297.3 997.7,1297.1 998.7,1297.3 1000.7,1297.1 1005.7,1297.3 1007.2,1297.2 1009.2,1297.3 1010.7,1297.1 1012.7,1297.3 1014.2,1297.1 1017.7,1297.3 1022.2,1297.1 1024.7,1297.4 1025.7,1297.2 1028.2,1297.1 1029.2,1297.3 1030.7,1297.1 1032.2,1297.2 1034.2,1297.1 1036.2,1297.2 1037.7,1297.3 1038.7,1297.3 1041.2,1297.3 1044.7,1297.2 1045.7,1297.3 1047.2,1297.3 1049.7,1297.1 1052.2,1297.2 1055.2,1297.0 1057.7,1297.2 1060.2,1297.3 1061.2,1297.0 1062.2,1296.9 1064.7,1297.2 1066.2,1297.1 1068.2,1297.1 1070.7,1297.0 1074.2,1297.1 1077.7,1296.9 1080.2,1297.1 1082.2,1297.0 1084.7,1297.1 1086.2,1297.2 1088.2,1297.1 1089.7,1297.2 1090.7,1296.9 1091.7,1296.8 1095.7,1297.1 1099.2,1296.8 1100.2,1296.9 1103.7,1296.8 1105.2,1296.9 1111.7,1296.8 1115.7,1296.8 1116.7,1296.7 1120.2,1296.8 1121.2,1296.5 1121.7,1296.5 1122.7,1296.7 1123.7,1296.7 1128.2,1296.5 1128.7,1296.6 1129.7,1296.9 1130.7,1296.7 1132.2,1296.6 1133.2,1296.5 1134.2,1296.5 1135.7,1296.3 1136.7,1296.4 1138.2,1296.4 1141.7,1296.6 1144.2,1296.3 1147.2,1296.5 1148.7,1296.1 1151.2,1296.1 1154.2,1296.3 1156.7,1296.3 1158.2,1296.0 1160.7,1295.8 1165.2,1296.0 1167.2,1295.7 1168.7,1295.7 1169.7,1295.4 1171.2,1295.6 1172.2,1295.5 1173.2,1295.3 1176.7,1295.4 1182.7,1294.7 1185.2,1294.8 1188.7,1294.2 1194.7,1293.8 1195.7,1293.5 1198.2,1293.0 1200.7,1292.8 1205.2,1291.7 1207.7,1291.4 1210.2,1290.5 1213.7,1289.7 1214.7,1289.1 1215.7,1289.0 1219.2,1287.4 1220.7,1286.3 1222.2,1285.6 1225.2,1283.7 1228.7,1280.6 1231.2,1277.9 1233.7,1274.5 1237.2,1268.7 1239.7,1263.1 1240.7,1260.5 1241.7,1257.6 1244.2,1249.2 1245.7,1242.8 1247.7,1232.4 1249.2,1223.2 1250.7,1211.9 1252.0,1200.3 1253.2,1187.8 1254.7,1169.2 1255.7,1154.2 1256.7,1137.1 1258.2,1106.5 1259.7,1068.7 1261.2,1021.8 1262.7,964.2 1264.2,894.1 1265.7,811.1 1269.7,550.2 1271.2,463.3 1272.2,420.1 1272.7,404.7 1273.2,394.2 1273.7,388.6 1274.0,387.7 1274.2,388.2 1274.7,392.9 1275.2,402.7 1275.7,417.2 1276.7,458.8 1278.2,544.7 1281.2,744.5 1283.2,864.6 1284.2,916.4 1285.2,962.3 1286.2,1002.8 1287.7,1054.1 1288.7,1082.6 1290.2,1118.9 1291.7,1148.0 1293.2,1171.5 1294.2,1184.6 1295.2,1196.2 1297.2,1215.3 1298.2,1223.1 1299.2,1229.9 1300.2,1235.8 1301.7,1243.6 1302.7,1248.2 1303.7,1252.3 1305.2,1257.6 1306.2,1260.7 1307.7,1264.8 1308.7,1267.2 1311.2,1272.2 1312.2,1273.9 1314.2,1276.8 1316.2,1279.2 1317.2,1280.6 1318.7,1282.1 1322.2,1284.8 1329.2,1288.7 1330.2,1289.1 1337.2,1291.4 1338.7,1291.5 1342.2,1292.5 1344.2,1292.7 1346.7,1293.3 1348.2,1293.4 1350.2,1293.9 1351.7,1293.9 1352.7,1294.1 1353.7,1293.9 1355.2,1294.2 1363.2,1295.1 1364.7,1295.0 1369.2,1295.2 1371.7,1295.5 1373.7,1295.4 1375.2,1295.7 1376.2,1295.6 1377.7,1295.9 1379.7,1295.8 1381.2,1296.0 1383.2,1295.8 1384.7,1295.9 1385.7,1295.8 1387.2,1296.0 1390.2,1296.1 1391.7,1296.3 1394.2,1296.2 1395.2,1296.5 1396.2,1296.4 1399.7,1296.3 1408.2,1296.4 1409.2,1296.3 1410.7,1296.4 1411.7,1296.2 1413.7,1296.5 1416.2,1296.5 1417.7,1296.8 1419.7,1296.6 1421.2,1296.7 1423.7,1296.5 1425.7,1296.7 1429.2,1296.8 1430.7,1296.5 1431.7,1296.5 1434.2,1296.6 1435.2,1296.7 1437.7,1296.6 1438.7,1296.8 1441.2,1296.6 1442.7,1296.9 1449.2,1296.8 1450.7,1296.9 1453.2,1296.7 1454.2,1296.7 1455.2,1296.8 1458.2,1296.7" stroke="#dfb348"/>
</g>
<path d="M215.9,1313.5V1301.2M215.9,44.4V56.7M453.4,1313.5V1301.2M453.4,44.4V56.7M689.0,1313.5V1301.2M689.0,44.4V56.7M924.5,1313.5V1301.2M924.5,44.4V56.7M1162.2,1313.5V1301.2M1162.2,44.4V56.7M1397.6,1313.5V1301.2M1397.6,44.4V56.7" stroke="#262626" stroke-width="2.1" fill="none"/>
<rect x="99.2" y="44.4" width="1357.0" height="1269.1" fill="none" stroke="#262626" stroke-width="2.1"/>
<g font-family="Liberation Sans" font-size="54.5" fill="#262626">
<g transform="translate(217.10,1384.30) scale(1.0000,1)"><text x="-45.77" y="0">2</text><text x="-15.46" y="0">0</text><text x="14.85" y="0">0</text></g>
<g transform="translate(451.90,1384.30) scale(0.9950,1)"><text x="-45.03" y="0">4</text><text x="-14.72" y="0">0</text><text x="15.59" y="0">0</text></g>
<g transform="translate(688.30,1384.30) scale(0.9950,1)"><text x="-45.78" y="0">6</text><text x="-15.47" y="0">0</text><text x="14.84" y="0">0</text></g>
<g transform="translate(925.90,1384.30) scale(0.9950,1)"><text x="-45.59" y="0">8</text><text x="-15.27" y="0">0</text><text x="15.04" y="0">0</text></g>
<g transform="translate(1161.85,1384.30) scale(0.9830,1)"><path d="M763,0L583,0L583,1147C540,1106 483,1064 413,1023C342,982 279,951 223,930L223,1104C323,1151 410,1208 484,1274C558,1340 610,1404 641,1466L763,1466Z" transform="translate(-62.52,0.00) scale(0.02661,-0.02595)"/><text x="-32.21" y="0">0</text><text x="-1.90" y="0">0</text><text x="28.41" y="0">0</text></g>
<g transform="translate(1399.70,1384.30) scale(0.9850,1)"><path d="M763,0L583,0L583,1147C540,1106 483,1064 413,1023C342,982 279,951 223,930L223,1104C323,1151 410,1208 484,1274C558,1340 610,1404 641,1466L763,1466Z" transform="translate(-62.52,0.00) scale(0.02661,-0.02595)"/><text x="-32.21" y="0">2</text><text x="-1.90" y="0">0</text><text x="28.41" y="0">0</text></g>
</g>
<g font-family="Liberation Sans" fill="#262626">
<text x="523.40 567.00 600.59 650.89 684.47 718.05 734.83 765.02 798.61 812.02 828.80" y="1458.1" font-size="61">Raman shift</text>
<text transform="translate(864.25,1458.1) scale(0.8,1)" font-size="61">(</text>
<text x="882.81" y="1458.1" font-size="61">cm</text>
<rect x="965.9" y="1415.1" width="13.6" height="4.2"/>
<path d="M763,0L583,0L583,1147C540,1106 483,1064 413,1023C342,982 279,951 223,930L223,1104C323,1151 410,1208 484,1274C558,1340 610,1404 641,1466L763,1466Z" transform="translate(979.62,1429.20) scale(0.02368,-0.02368)"/>
<text transform="translate(1013.24,1458.1) scale(0.8,1)" font-size="61">)</text>
<text transform="translate(64.5,1002.85) rotate(-90)" font-size="61" x="0.00 16.80 50.43 67.23 100.86 134.49 164.72 178.15 194.95 225.19 241.99 262.12 295.75 315.89 349.51 369.65 383.08 399.88 420.02 453.65 483.88 500.68 534.31 567.94 581.37 598.17 628.41" y="0">Intensity (arbritray units)</text>
</g>
<rect x="153.7" y="97" width="371.8" height="182" fill="#fff" stroke="#262626" stroke-width="1.8"/>
<line x1="165.6" y1="132.1" x2="282.0" y2="132.1" stroke="#1a6ca2" stroke-width="3.3"/>
<text transform="translate(288.7,150.1) scale(1,1.035)" font-family="Liberation Sans" font-size="49" fill="#000" x="0.40 32.86 49.06 76.12 103.18 130.24 157.30 168.11 181.63" y="0">Aragonite</text>
<line x1="165.6" y1="190.2" x2="282.0" y2="190.2" stroke="#c25c31" stroke-width="3.3"/>
<text transform="translate(288.7,208.5) scale(1,1.035)" font-family="Liberation Sans" font-size="49" fill="#000" x="-0.29 35.38 62.86 73.83 98.53 109.50 123.23" y="0">Calcite</text>
<line x1="165.6" y1="246.3" x2="282.0" y2="246.3" stroke="#dfb348" stroke-width="3.3"/>
<text transform="translate(288.7,264.5) scale(1,1.035)" font-family="Liberation Sans" font-size="49" fill="#000" x="-0.22 40.27 67.31 94.34 121.38 148.41 172.72 183.52 197.03" y="0">Magnesite</text>
</svg>
</body></html>
